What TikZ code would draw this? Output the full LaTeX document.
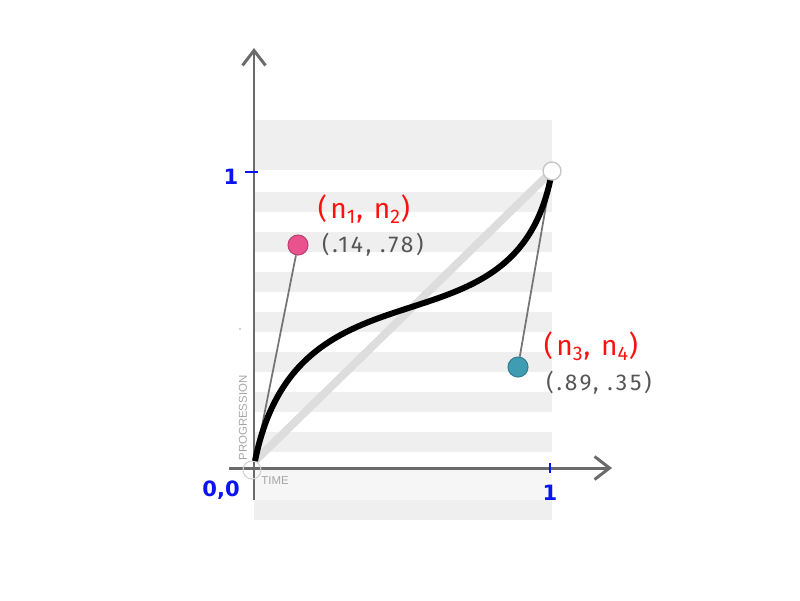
\documentclass[tikz,border=0pt]{standalone}
\usepackage{fontspec}
\setmainfont{Fira Sans}
\newfontfamily\handfont[LetterSpace=12]{Fira Sans}
\newfontfamily\tickfont{DejaVu Sans}
\newfontfamily\capfont{Liberation Sans}
\usetikzlibrary{arrows.meta,positioning}
\definecolor{axisGray}{HTML}{6B6B6B}
\definecolor{stripe}{HTML}{EFEFEF}
\definecolor{stripeLight}{HTML}{F6F6F6}
\definecolor{diagGray}{HTML}{DDDDDD}
\definecolor{handleGray}{HTML}{757575}
\definecolor{pinkPt}{HTML}{E9528E}
\definecolor{tealPt}{HTML}{3E9DB3}
\definecolor{tagRed}{HTML}{FF1010}
\definecolor{valGray}{HTML}{555555}
\definecolor{tickBlue}{HTML}{0A14F0}

\begin{document}
\begin{tikzpicture}[x=0.02cm,y=-0.02cm,
  axis/.style={draw=axisGray,line width=1.7pt,-{Straight Barb[length=3mm,width=4.6mm]}},
  tickmark/.style={draw=tickBlue,line width=1.6pt},
  ticklbl/.style={text=tickBlue,font=\tickfont\bfseries\fontsize{12}{14}\selectfont},
  handle/.style={draw=handleGray,line width=1pt},
  ctrl/.style={circle,draw,line width=0.6pt,minimum size=20*0.02cm,inner sep=0pt},
  tag/.style={text=tagRed,font=\handfont\fontsize{16}{18}\selectfont},
  val/.style={text=valGray,font=\handfont\fontsize{13}{15}\selectfont},
  axiscap/.style={text=gray!70,font=\capfont\fontsize{6.5}{7}\selectfont,inner sep=0pt},
  node distance=1.5mm
]
\useasboundingbox (0,0) rectangle (800,600);
% striped backdrop
\fill[stripe] (254,120) rectangle (552,170);
\foreach \y in {192,232,...,432}
  \fill[stripe] (254,\y) rectangle (552,\y+20);
\fill[stripeLight] (254,470) rectangle (552,500);
\fill[stripe] (254,500) rectangle (552,520);
% axes
\draw[axis] (254,500) -- (254,48);
\draw[axis] (229,468) -- (612,468);
\draw[tickmark] (245,172) -- (258,172);
\draw[tickmark] (550,463) -- (550,473);
\node[ticklbl] (one y) at (231,177) {1};
\node[ticklbl] (one x) at (550,493) {1};
\node[ticklbl] (orig) at (221,490) {0,0};
\node[axiscap,rotate=90] (prog) at (243,418) {PROGRESSION};
\node[axiscap] (time) at (275,481) {TIME};
\fill[gray!70] (240,329) circle (0.8);
% curve
\node[circle,draw=gray!35,line width=0.6pt,minimum size=18*0.02cm] (o) at (252,470) {};
\coordinate (start) at (255,461);
\coordinate (stop) at (552,171);
\draw[diagGray,line width=4.5pt] (start) -- (stop);
\node[ctrl,draw=pinkPt!80!black,fill=pinkPt] (p1) at (298,245) {};
\node[ctrl,draw=tealPt!80!black,fill=tealPt] (p2) at (518,367) {};
\draw[handle] (start) -- (p1);
\draw[handle] (stop) -- (p2);
\draw[black,line width=3.4pt] (start) .. controls (p1.center) and (p2.center) .. (stop);
\node[circle,draw=gray!45,fill=white,line width=0.8pt,minimum size=18*0.02cm] (end) at (stop) {};
% labels
\node[tag] (n12) at (364,209) {(n\textsubscript{1}, n\textsubscript{2})};
\node[val,right=of p1] (v1) {(.14, .78)};
\node[tag] (n34) at (591,346) {(n\textsubscript{3}, n\textsubscript{4})};
\node[val] (v2) at (599,383) {(.89, .35)};
\end{tikzpicture}
\end{document}
